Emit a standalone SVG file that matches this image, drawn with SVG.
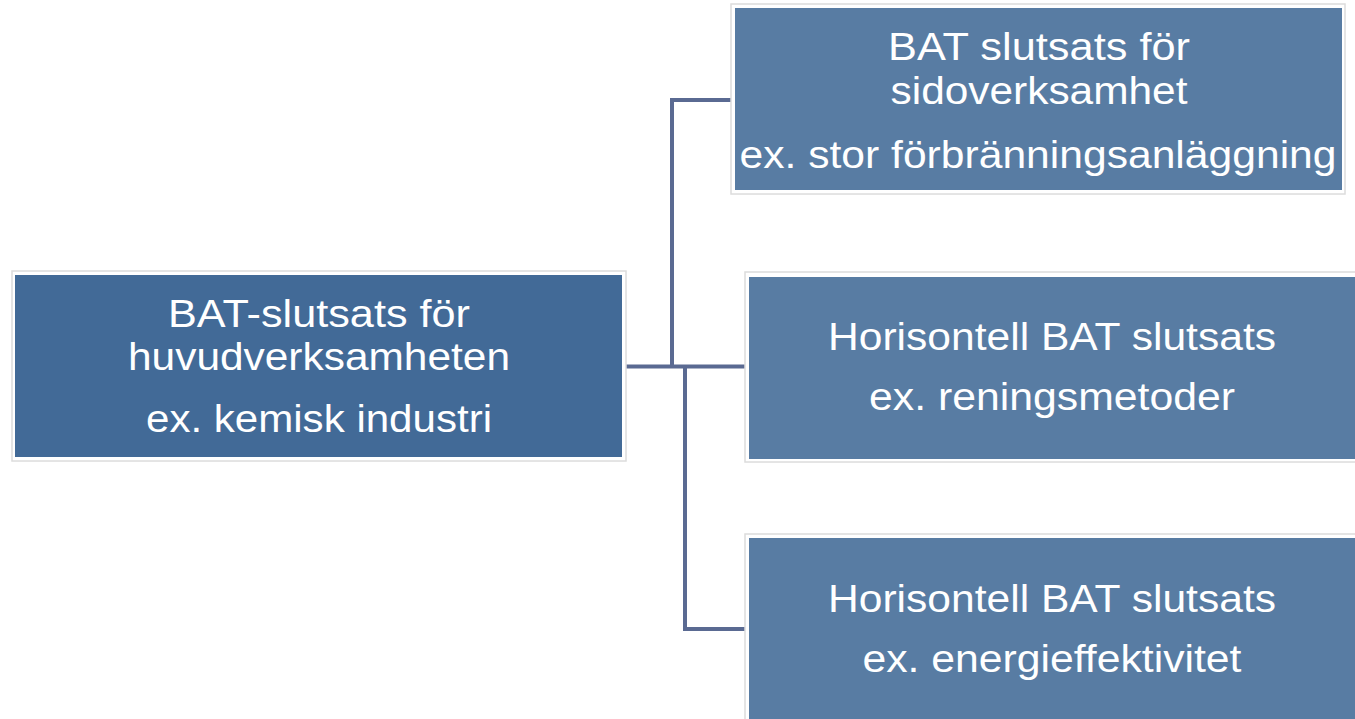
<svg xmlns="http://www.w3.org/2000/svg" width="1355" height="719" viewBox="0 0 1355 719">
<style>
.frame{fill:#fff;stroke:#dcdcdc;stroke-width:1.5}
.main{fill:#426a97}
.sub{fill:#587ca3}
.t{font-family:"Liberation Sans",Arial,sans-serif;font-size:38px;fill:#fff;text-anchor:middle}
.c{fill:none;stroke:#5a6a92;stroke-width:4}
</style>
<rect width="1355" height="719" fill="#fff"/>
<g id="connectors">
<path class="c" d="M626 366.5H745"/>
<path class="c" d="M672 366.5V100H731"/>
<path class="c" d="M685 366.5V629H745"/>
</g>
<g id="main">
<rect class="frame" x="12" y="271" width="614" height="190"/>
<rect class="main" x="15" y="275" width="607" height="182"/>
<text class="t" x="319" y="327" textLength="302" lengthAdjust="spacingAndGlyphs">BAT-slutsats för</text>
<text class="t" x="319" y="370" textLength="382" lengthAdjust="spacingAndGlyphs">huvudverksamheten</text>
<text class="t" x="319" y="432" textLength="346" lengthAdjust="spacingAndGlyphs">ex. kemisk industri</text>
</g>
<g id="side">
<rect class="frame" x="731" y="4" width="614" height="190"/>
<rect class="sub" x="735" y="8" width="607" height="182"/>
<text class="t" x="1039" y="60" textLength="302" lengthAdjust="spacingAndGlyphs">BAT slutsats för</text>
<text class="t" x="1039" y="104" textLength="297" lengthAdjust="spacingAndGlyphs">sidoverksamhet</text>
<text class="t" x="1038" y="168" textLength="597" lengthAdjust="spacingAndGlyphs">ex. stor förbränningsanläggning</text>
</g>
<g id="horizontal1">
<rect class="frame" x="745" y="272" width="614" height="190"/>
<rect class="sub" x="749" y="277" width="610" height="182"/>
<text class="t" x="1052" y="350" textLength="448" lengthAdjust="spacingAndGlyphs">Horisontell BAT slutsats</text>
<text class="t" x="1052" y="410" textLength="366" lengthAdjust="spacingAndGlyphs">ex. reningsmetoder</text>
</g>
<g id="horizontal2">
<rect class="frame" x="745" y="534" width="614" height="190"/>
<rect class="sub" x="749" y="538" width="610" height="190"/>
<text class="t" x="1052" y="612" textLength="448" lengthAdjust="spacingAndGlyphs">Horisontell BAT slutsats</text>
<text class="t" x="1052" y="672" textLength="379" lengthAdjust="spacingAndGlyphs">ex. energieffektivitet</text>
</g>
</svg>
